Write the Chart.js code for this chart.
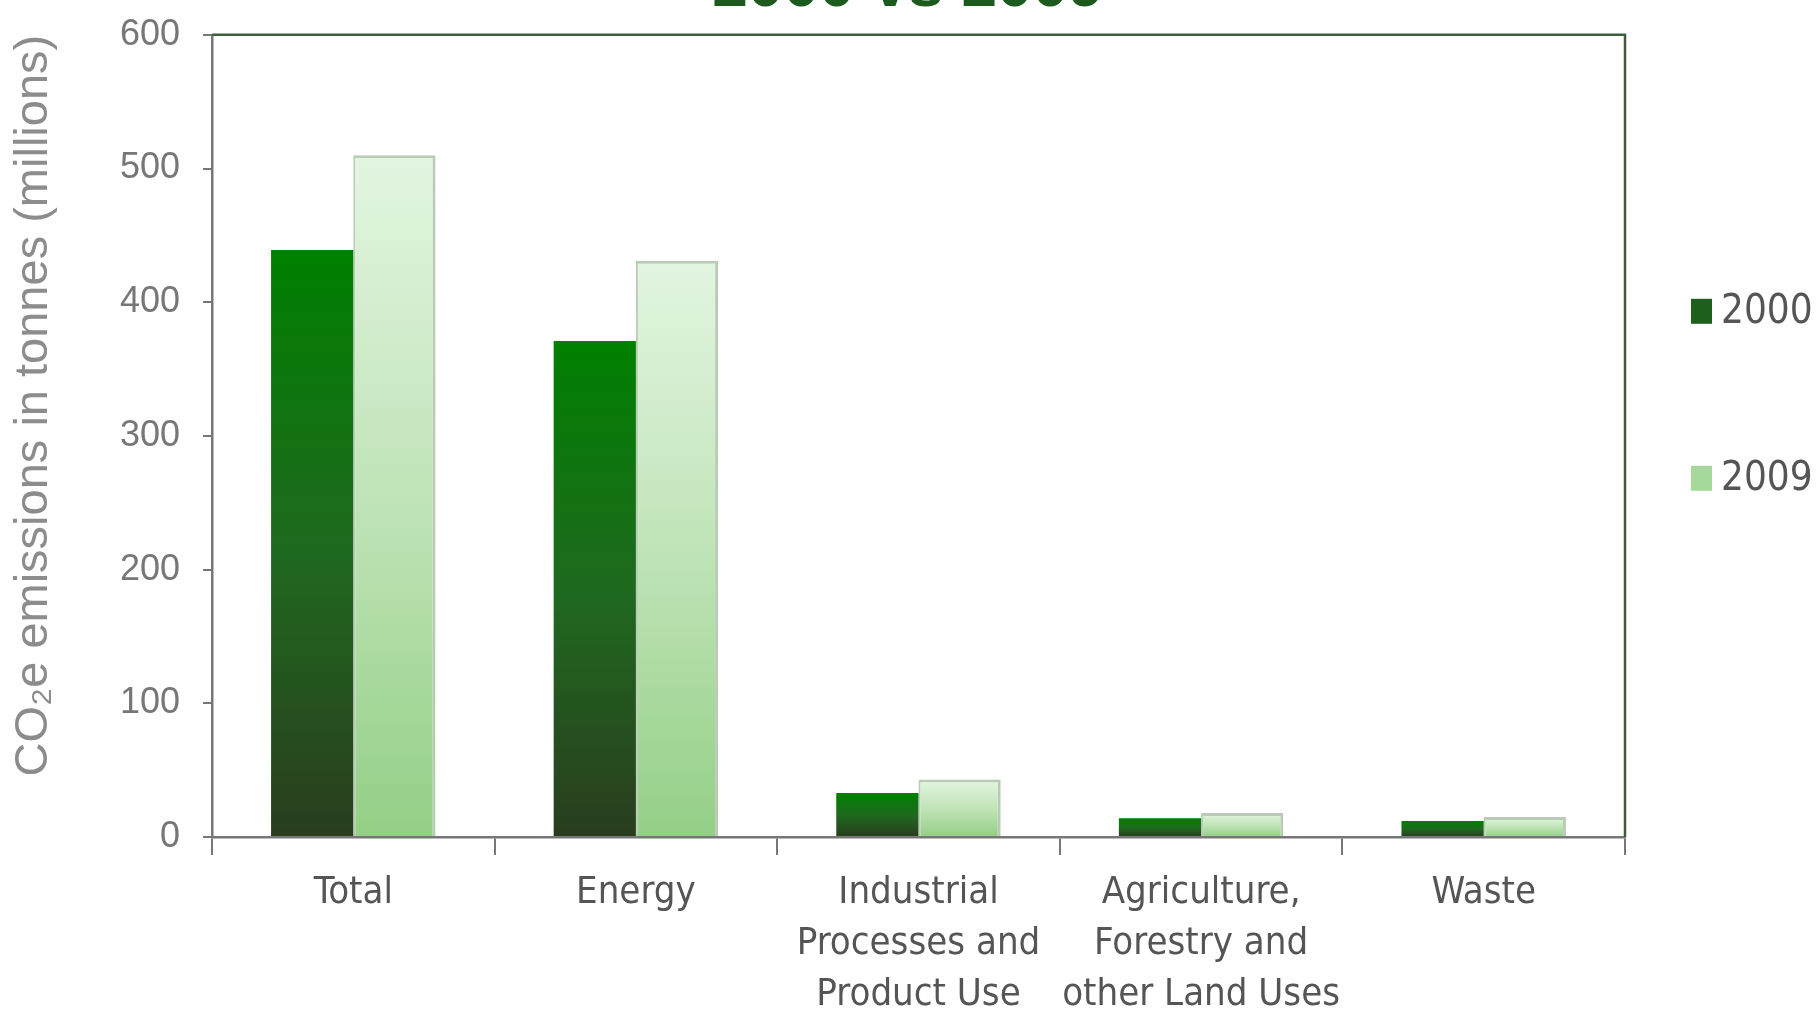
<!DOCTYPE html>
<html>
<head>
<meta charset="utf-8">
<script src="https://cdn.jsdelivr.net/npm/chart.js@4.4.1/dist/chart.umd.min.js"></script>
<style>
  html, body { margin: 0; padding: 0; background: #fff; overflow: hidden; }
  #wrap { position: absolute; left: 0; top: -50px; width: 1816px; height: 1066px; }
</style>
</head>
<body>
<div id="wrap"><canvas id="emissionsChart"></canvas></div>
<script>
// Emissions by sector, 2000 vs 2009
const categories = [
    ['Total'],
    ['Energy'],
    ['Industrial', 'Processes and', 'Product Use'],
    ['Agriculture,', 'Forestry and', 'other Land Uses'],
    ['Waste']
];
const values2000 = [439, 371, 33, 14, 12];
const values2009 = [510, 431, 43, 18, 15];
const yTicks = [0, 100, 200, 300, 400, 500, 600];

const narrowFont = "'Liberation Sans Narrow', 'DejaVu Sans Condensed', 'Liberation Sans', sans-serif";
const plainFont = "'Liberation Sans', Arial, sans-serif";

// vertical gradient from the top of each bar down to zero
function barGradient(topColor, midColor, bottomColor) {
    return function(ctx) {
        const chart = ctx.chart;
        if (!chart.chartArea || ctx.raw === undefined) return topColor;
        const y = chart.scales.y;
        const top = y.getPixelForValue(ctx.raw);
        const base = y.getPixelForValue(0);
        const g = chart.ctx.createLinearGradient(0, top, 0, base + 0.01);
        g.addColorStop(0, topColor);
        g.addColorStop(0.5, midColor);
        g.addColorStop(1, bottomColor);
        return g;
    };
}

// green frame on the top and right of the plot
const plotFrame = {
    id: 'plotFrame',
    afterDatasetsDraw(chart) {
        const { ctx, chartArea: a } = chart;
        ctx.save();
        ctx.strokeStyle = '#3d5e3d';
        ctx.lineWidth = 2.5;
        ctx.beginPath();
        ctx.moveTo(a.left, a.top);
        ctx.lineTo(a.right, a.top);
        ctx.lineTo(a.right, a.bottom);
        ctx.stroke();
        ctx.restore();
    }
};

// legend to the right, items spaced far apart
const sideLegend = {
    id: 'sideLegend',
    afterDraw(chart) {
        const { ctx, chartArea: a } = chart;
        ctx.save();
        chart.data.datasets.forEach((ds, i) => {
            const cy = a.top + 277 + i * 167;
            const x = a.right + 66;
            ctx.fillStyle = ds.legendColor;
            ctx.fillRect(x, cy - 13, 21, 25);
            ctx.fillStyle = '#555';
            ctx.font = '40px ' + narrowFont;
            ctx.textBaseline = 'middle';
            ctx.textAlign = 'left';
            ctx.fillText(ds.label, x + 30, cy + 1);
        });
        ctx.restore();
    }
};

new Chart(document.getElementById('emissionsChart'), {
    type: 'bar',
    data: {
        labels: categories,
        datasets: [{
            label: '2000',
            data: values2000,
            backgroundColor: barGradient('#008000', '#1f6a1f', '#2a3d1e'),
            borderWidth: 0,
            legendColor: '#1d5f1d',
            categoryPercentage: 0.582,
            barPercentage: 1.0
        }, {
            label: '2009',
            data: values2009,
            backgroundColor: barGradient('#e3f5e1', '#c0e4b8', '#94cf86'),
            borderColor: '#b8cbb5',
            borderWidth: { top: 3, left: 2, right: 3, bottom: 0 },
            legendColor: '#a6d79b',
            categoryPercentage: 0.582,
            barPercentage: 1.0
        }]
    },
    options: {
        responsive: true,
        maintainAspectRatio: false,
        animation: false,
        layout: { padding: 0 },
        plugins: {
            legend: { display: false },
            tooltip: { enabled: false },
            title: {
                display: true,
                text: '2000 vs 2009',
                color: '#1d5a1d',
                font: { family: plainFont, size: 64, weight: 'bold' },
                padding: { top: 0, bottom: 8 }
            }
        },
        scales: {
            x: {
                afterFit: s => { s.height = 179; },
                grid: { drawOnChartArea: false, tickLength: 18, color: '#777', lineWidth: 2, offset: true },
                border: { color: '#777', width: 2.5 },
                ticks: {
                    color: '#555',
                    font: { family: narrowFont, size: 38, lineHeight: 1.34 },
                    padding: 13,
                    maxRotation: 0,
                    autoSkip: false
                }
            },
            y: {
                min: 0,
                max: 600,
                afterFit: s => { s.width = 212; },
                afterBuildTicks: s => { s.ticks = yTicks.map(v => ({ value: v })); },
                grid: { drawOnChartArea: false, tickLength: 9, color: '#777', lineWidth: 2 },
                border: { color: '#777', width: 2.5 },
                ticks: {
                    color: '#777',
                    font: { family: plainFont, size: 36 },
                    padding: 23
                },
                title: {
                    display: true,
                    text: 'CO₂e emissions in tonnes (millions)',
                    align: 'end',
                    color: '#8c8c8c',
                    font: { family: plainFont, size: 47 },
                    padding: { top: 6, bottom: 0 }
                }
            },
            // empty right-hand strip that holds the legend
            side: {
                position: 'right',
                min: 0,
                max: 600,
                afterFit: s => { s.width = 191; },
                grid: { display: false },
                border: { display: false },
                ticks: { display: false }
            }
        }
    },
    plugins: [plotFrame, sideLegend]
});
</script>
</body>
</html>
